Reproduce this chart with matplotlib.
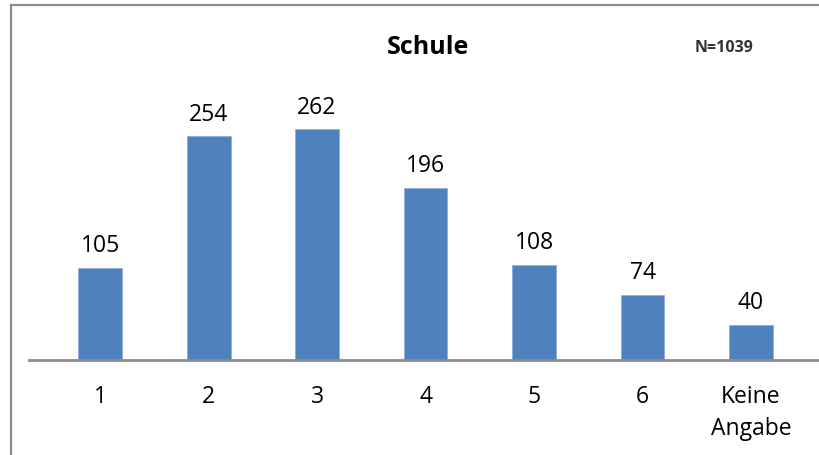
import matplotlib
matplotlib.use('Agg')
import matplotlib.pyplot as plt
from matplotlib.lines import Line2D

categories = ['1', '2', '3', '4', '5', '6', 'Keine\nAngabe']
values = [105, 254, 262, 196, 108, 74, 40]
title = 'Schule'
n_label = 'N=1039'

plt.rcParams['font.family'] = ['Open Sans', 'DejaVu Sans']

fig = plt.figure(figsize=(8.2, 4.55), dpi=100)
W, H = 820, 455

# chart frame: only top and left edges are visible in the original
fig.lines.append(Line2D([11 / W, 11 / W, 1.05], [-0.05, 1 - 5 / H, 1 - 5 / H],
                        transform=fig.transFigure, color='#8c8c8c', linewidth=1.6,
                        solid_capstyle='butt', solid_joinstyle='miter'))

ax = fig.add_axes([29 / W, (H - 360) / H, (W - 29) / W, 260 / H])
x = range(len(values))
ax.bar(x, values, width=0.405, color='#4f81bd', edgecolor='#8eaede', linewidth=0.6)
ax.set_xlim(-0.655, 6.636)
ax.set_ylim(0, 260 / 0.88)

for i, v in enumerate(values):
    ax.text(i, v + 11, str(v), ha='center', va='bottom', fontsize=16.5)

ax.set_xticks(list(x))
ax.set_xticklabels(categories, fontsize=16.5, linespacing=1.45, va='top')
ax.tick_params(axis='x', length=0, pad=18)
ax.set_yticks([])
for s in ['top', 'right', 'left']:
    ax.spines[s].set_visible(False)
ax.spines['bottom'].set_color('#8c8c8c')
ax.spines['bottom'].set_linewidth(2)

fig.text(428 / W, 1 - 47 / H, title, ha='center', va='center', fontsize=18, fontweight='bold')
fig.text(724 / W, 1 - 48 / H, n_label, ha='center', va='center', fontsize=11.5, fontweight='bold', color='#333333')

fig.savefig('out.png', dpi=100)
